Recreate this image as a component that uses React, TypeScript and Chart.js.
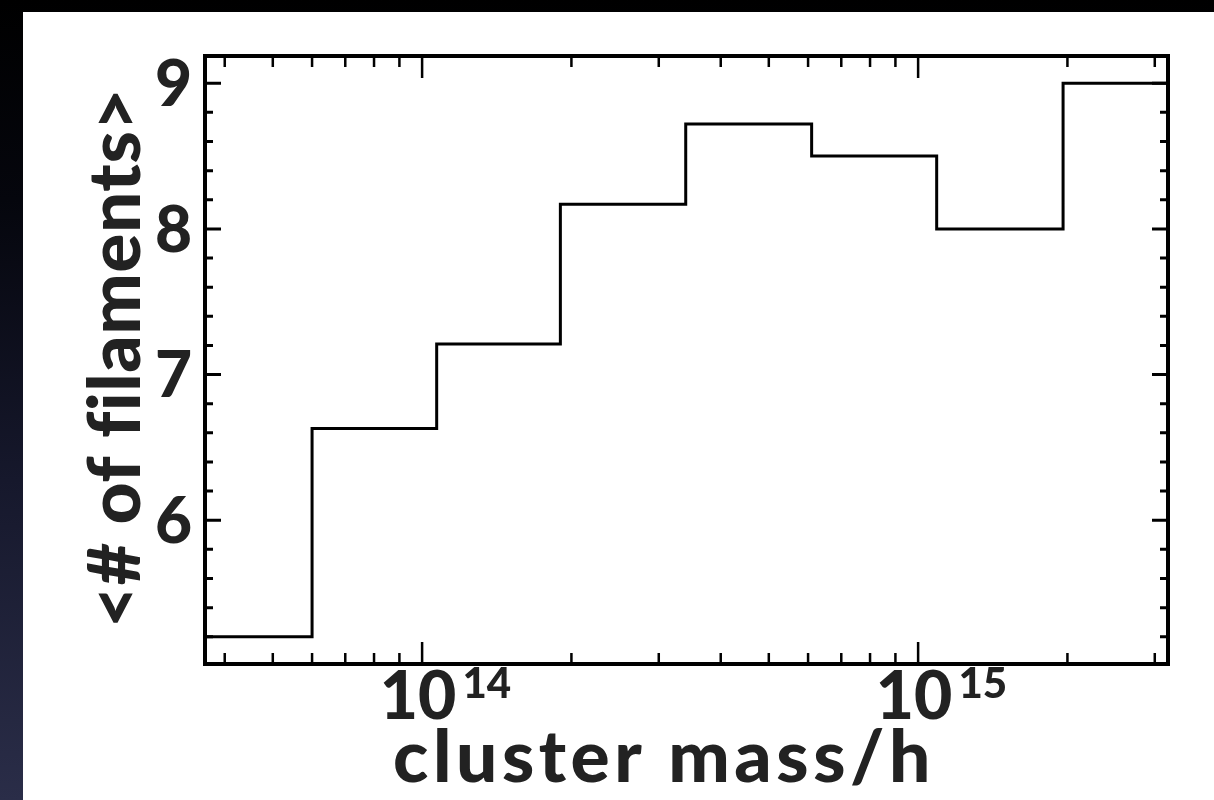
import React, { useEffect, useRef } from 'react';
import { Chart, registerables } from 'chart.js';

Chart.register(...registerables);

// ---- data ----
const binLeftEdges = [3.36e13, 6.0e13, 1.07e14, 1.9e14, 3.4e14, 6.1e14, 1.09e15, 1.96e15];
const binRightEnd = 3.5e15;
const meanFilaments = [5.2, 6.63, 7.21, 8.17, 8.72, 8.5, 8.0, 9.0];

const xRange = [3.65e13, 3.19e15];
const yRange = [5.013, 9.187];

const xMajorTicks = [1e14, 1e15];
const xTickBases = ['10', '10'];
const xTickExponents = ['14', '15'];
const xMinorTicks = [
  4e13, 5e13, 6e13, 7e13, 8e13, 9e13,
  2e14, 3e14, 4e14, 5e14, 6e14, 7e14, 8e14, 9e14,
  2e15, 3e15,
];
const yMajorTicks = [6, 7, 8, 9];
const yTickLabels = ['6', '7', '8', '9'];
const yMinorTicks = [
  5.2, 5.4, 5.6, 5.8, 6.2, 6.4, 6.6, 6.8, 7.2, 7.4, 7.6, 7.8, 8.2, 8.4, 8.6, 8.8,
];

const xTitle = 'cluster mass/h';
const yTitle = '<# of filaments>';

const FONT = "Lato, 'Open Sans', 'DejaVu Sans', sans-serif";
const TEXT = '#222222';

// keep the font size, widen with letter spacing to reach the target width
function spaceToWidth(ctx: any, text: string, target: number, size: number) {
  ctx.font = `900 ${size}px ${FONT}`;
  try {
    ctx.letterSpacing = '0.5px';
  } catch (e) {}
  const w = ctx.measureText(text).width;
  const ls = Math.max(0.5, 0.5 + (target - w) / text.length);
  try {
    ctx.letterSpacing = `${ls.toFixed(2)}px`;
  } catch (e) {}
}

const framePlugin = {
  id: 'idlFrame',
  afterDraw(chart: any) {
    const { ctx, chartArea: a, scales } = chart;
    const xs = scales.x;
    const ys = scales.y;
    ctx.save();
    ctx.strokeStyle = '#000';
    ctx.lineCap = 'butt';

    // x ticks (bottom & top, inward)
    const xTick = (v: number, len: number) => {
      const px = xs.getPixelForValue(v);
      ctx.beginPath();
      ctx.moveTo(px, a.bottom);
      ctx.lineTo(px, a.bottom - len);
      ctx.moveTo(px, a.top);
      ctx.lineTo(px, a.top + len);
      ctx.stroke();
    };
    ctx.lineWidth = 2.5;
    xMinorTicks.forEach((v) => xTick(v, 11));
    xMajorTicks.forEach((v) => xTick(v, 22));

    // y ticks (left & right, inward)
    const yTick = (v: number, len: number) => {
      const py = ys.getPixelForValue(v);
      ctx.beginPath();
      ctx.moveTo(a.left, py);
      ctx.lineTo(a.left + len, py);
      ctx.moveTo(a.right, py);
      ctx.lineTo(a.right - len, py);
      ctx.stroke();
    };
    ctx.lineWidth = 3;
    yMinorTicks.forEach((v) => yTick(v, 8));
    yMajorTicks.forEach((v) => yTick(v, 16));

    // frame
    ctx.lineWidth = 4;
    ctx.lineJoin = 'miter';
    ctx.strokeRect(a.left, a.top, a.right - a.left, a.bottom - a.top);

    // y tick labels
    ctx.fillStyle = TEXT;
    ctx.font = `900 64px ${FONT}`;
    ctx.textAlign = 'right';
    ctx.textBaseline = 'middle';
    yMajorTicks.forEach((v, i) => {
      ctx.fillText(yTickLabels[i], a.left - 13, ys.getPixelForValue(v) + 2);
    });

    // x tick labels: base with superscript exponent
    xMajorTicks.forEach((v, i) => {
      const px = xs.getPixelForValue(v);
      ctx.font = `900 66px ${FONT}`;
      ctx.textAlign = 'center';
      ctx.textBaseline = 'alphabetic';
      const baseW = ctx.measureText(xTickBases[i]).width;
      ctx.fillText(xTickBases[i], px - 4, 707);
      ctx.font = `900 42px ${FONT}`;
      ctx.textAlign = 'left';
      ctx.fillText(xTickExponents[i], px - 4 + baseW / 2 + 6, 686);
    });

    // axis titles (letter spacing also suppresses the fi ligature)
    ctx.textAlign = 'center';
    ctx.textBaseline = 'alphabetic';
    spaceToWidth(ctx, xTitle, 542, 73);
    ctx.fillText(xTitle, 641, 770);

    spaceToWidth(ctx, yTitle, 533, 73);
    ctx.save();
    ctx.translate(117, 346);
    ctx.rotate(-Math.PI / 2);
    ctx.fillText(yTitle, 0, 0);
    ctx.restore();
    try {
      (ctx as any).letterSpacing = '0px';
    } catch (e) {}

    ctx.restore();
  },
};

export default function App() {
  const ref = useRef<HTMLCanvasElement | null>(null);

  useEffect(() => {
    if (!ref.current) return;
    const points = binLeftEdges.map((x, i) => ({ x, y: meanFilaments[i] }));
    points.push({ x: binRightEnd, y: meanFilaments[meanFilaments.length - 1] });

    const chart = new Chart(ref.current, {
      type: 'line',
      data: {
        datasets: [
          {
            data: points,
            stepped: 'before',
            borderColor: '#000',
            borderWidth: 3,
            pointRadius: 0,
            fill: false,
          },
        ],
      },
      options: {
        responsive: false,
        animation: false,
        devicePixelRatio: 1,
        layout: { padding: { left: 182, top: 44, right: 46, bottom: 136 } },
        plugins: { legend: { display: false }, tooltip: { enabled: false } },
        scales: {
          x: { type: 'logarithmic', min: xRange[0], max: xRange[1], display: false },
          y: { type: 'linear', min: yRange[0], max: yRange[1], display: false },
        },
      },
      plugins: [framePlugin],
    });
    return () => chart.destroy();
  }, []);

  return (
    <div
      style={{
        position: 'fixed',
        left: 0,
        top: 0,
        width: 1214,
        height: 800,
        overflow: 'hidden',
        background: 'linear-gradient(180deg, #000000 0%, #05060d 25%, #16182c 60%, #2a2d48 100%)',
      }}
    >
      <div
        style={{
          position: 'absolute',
          left: 23,
          top: 12,
          width: 1191,
          height: 788,
          background: '#ffffff',
        }}
      >
        <canvas ref={ref} width={1191} height={788} style={{ display: 'block' }} />
      </div>
    </div>
  );
}
